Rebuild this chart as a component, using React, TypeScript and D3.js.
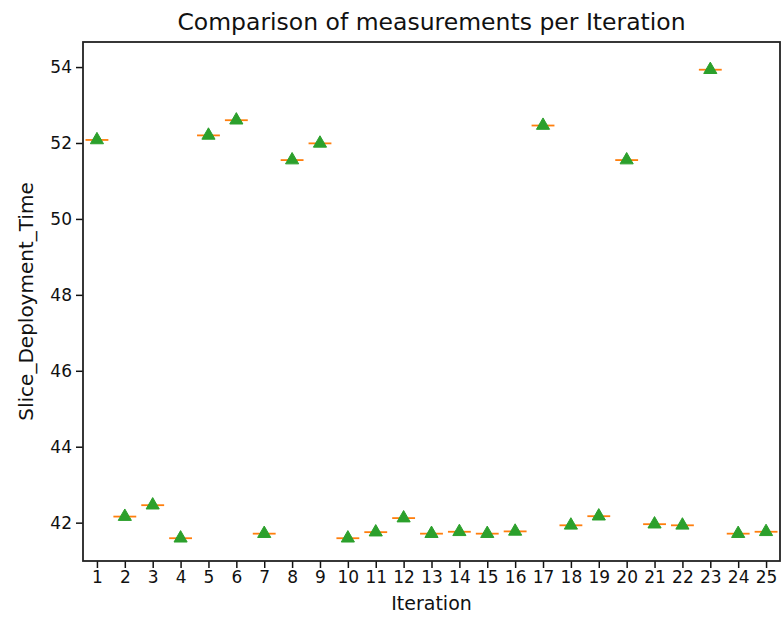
import React, { useRef, useEffect } from "react";
import * as d3 from "d3";

const iterations = [
  1, 2, 3, 4, 5, 6, 7, 8, 9, 10, 11, 12, 13, 14, 15, 16, 17, 18, 19, 20, 21, 22, 23, 24, 25,
];
const deployTimes = [
  52.08, 42.16, 42.46, 41.59, 52.2, 52.6, 41.71, 51.55, 51.99, 41.59, 41.75, 42.12, 41.71,
  41.76, 41.71, 41.77, 52.46, 41.93, 42.17, 51.55, 41.96, 41.93, 53.93, 41.71, 41.76,
];
const yTicks = [42, 44, 46, 48, 50, 52, 54];

const W = 781;
const H = 626;

const App = () => {
  const ref = useRef<SVGSVGElement>(null);

  useEffect(() => {
    const svg = d3.select(ref.current);
    svg.selectAll("*").remove();

    const margin = { top: 42, right: 1, bottom: 65, left: 83 };
    const x = d3
      .scaleLinear()
      .domain([0.5, iterations.length + 0.5])
      .range([margin.left, W - margin.right]);
    const y = d3
      .scaleLinear()
      .domain([40.99, 54.66])
      .range([H - margin.bottom, margin.top]);

    const font = "DejaVu Sans, sans-serif";

    // y axis
    const yAxis = svg
      .append("g")
      .attr("transform", `translate(${margin.left},0)`)
      .call(d3.axisLeft(y).tickValues(yTicks).tickSize(7).tickPadding(4));
    yAxis.select(".domain").remove();
    yAxis.selectAll("text").style("font-family", font).style("font-size", "17px").attr("fill", "#111");
    yAxis.selectAll("line").attr("stroke", "#111").attr("stroke-width", 1.5);

    // x axis
    const xAxis = svg
      .append("g")
      .attr("transform", `translate(0,${H - margin.bottom})`)
      .call(
        d3
          .axisBottom(x)
          .tickValues(iterations)
          .tickFormat(d3.format("d"))
          .tickSize(7)
          .tickPadding(3)
      );
    xAxis.select(".domain").remove();
    xAxis.selectAll("text").style("font-family", font).style("font-size", "17px").attr("fill", "#111");
    xAxis.selectAll("line").attr("stroke", "#111").attr("stroke-width", 1.5);

    // frame
    svg
      .append("rect")
      .attr("x", margin.left)
      .attr("y", margin.top)
      .attr("width", W - margin.left - margin.right)
      .attr("height", H - margin.top - margin.bottom)
      .attr("fill", "none")
      .attr("stroke", "#222")
      .attr("stroke-width", 1.8);

    const step = x(2) - x(1);
    const half = step * 0.41;

    const g = svg
      .selectAll(".box")
      .data(iterations.map((it, i) => ({ it, v: deployTimes[i] })))
      .enter()
      .append("g")
      .attr("class", "box");

    // collapsed box: median line
    g.append("line")
      .attr("x1", (d) => x(d.it) - half)
      .attr("x2", (d) => x(d.it) + half)
      .attr("y1", (d) => y(d.v))
      .attr("y2", (d) => y(d.v))
      .attr("stroke", "#ff7f0e")
      .attr("stroke-width", 1.8);

    // mean marker
    const tri = d3.symbol().type(d3.symbolTriangle).size(75);
    g.append("path")
      .attr("d", tri)
      .attr("transform", (d) => `translate(${x(d.it)},${y(d.v)})`)
      .attr("fill", "#2ca02c")
      .attr("stroke", "#2ca02c")
      .attr("stroke-width", 1);

    svg
      .append("text")
      .attr("x", (margin.left + W - margin.right) / 2)
      .attr("y", 30)
      .attr("text-anchor", "middle")
      .style("font-family", font)
      .style("font-size", "23.5px")
      .attr("fill", "#111")
      .text("Comparison of measurements per Iteration");

    svg
      .append("text")
      .attr("x", (margin.left + W - margin.right) / 2)
      .attr("y", 610)
      .attr("text-anchor", "middle")
      .style("font-family", font)
      .style("font-size", "19px")
      .attr("fill", "#111")
      .text("Iteration");

    svg
      .append("text")
      .attr("transform", `translate(33,${(margin.top + H - margin.bottom) / 2}) rotate(-90)`)
      .attr("text-anchor", "middle")
      .style("font-family", font)
      .style("font-size", "20px")
      .attr("fill", "#111")
      .text("Slice_Deployment_Time");
  }, []);

  return (
    <svg
      ref={ref}
      width={W}
      height={H}
      style={{ position: "absolute", left: 0, top: 0, background: "#fff" }}
    />
  );
};

export default App;
